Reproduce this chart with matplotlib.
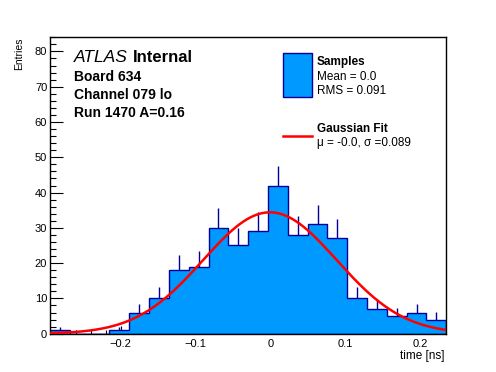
import numpy as np
import matplotlib.pyplot as plt
from matplotlib.patches import Rectangle
from matplotlib.lines import Line2D
from matplotlib.ticker import MultipleLocator, FixedLocator, FixedFormatter

plt.rcParams['font.family'] = ['Liberation Sans', 'DejaVu Sans']

# histogram: 20 bins
x_lo, x_hi = -0.294, 0.234
counts = [1, 0, 0, 1, 6, 10, 18, 19, 30, 25, 29, 42, 28, 31, 27, 10, 7, 5, 6, 4]
errors = [1.0, 0, 0, 1.0, 2.5, 3.2, 4.4, 4.4, 5.5, 5.0, 5.5, 5.5, 5.4, 5.5, 5.4, 3.3, 2.8, 2.3, 2.5, 2.1]

# gaussian fit parameters
fit_amp, fit_mu, fit_sigma = 34.4, -0.001, 0.089

x_ticks = [-0.2, -0.1, 0.0, 0.1, 0.2]
x_tick_labels = ['\u22120.2', '\u22120.1', '0', '0.1', '0.2']
y_max = 84

W, H = 496, 372
fill_col = '#0099ff'
line_col = '#000099'


def px(x, y):
    return x / W, 1 - y / H


fig = plt.figure(figsize=(W / 100, H / 100), dpi=100)
ax = fig.add_axes([50 / W, 1 - 333.7 / H, 396.3 / W, 296.4 / H])

edges = np.linspace(x_lo, x_hi, len(counts) + 1)
centers = 0.5 * (edges[:-1] + edges[1:])
counts = np.array(counts, dtype=float)
errors = np.array(errors)

ax.vlines(centers, counts, counts + errors, color=line_col, lw=1.0, zorder=1)
ax.hist(edges[:-1], bins=edges, weights=counts, histtype='stepfilled',
        facecolor=fill_col, edgecolor=line_col, lw=1.0, zorder=2)

xs = np.linspace(x_lo, x_hi, 400)
ax.plot(xs, fit_amp * np.exp(-0.5 * ((xs - fit_mu) / fit_sigma) ** 2),
        color='#ff0000', lw=1.8, zorder=3)

ax.set_xlim(x_lo, x_hi)
ax.set_ylim(0, y_max)
ax.xaxis.set_major_locator(FixedLocator(x_ticks))
ax.xaxis.set_major_formatter(FixedFormatter(x_tick_labels))
ax.xaxis.set_minor_locator(MultipleLocator(0.02))
ax.yaxis.set_major_locator(MultipleLocator(10))
ax.yaxis.set_minor_locator(MultipleLocator(2))
ax.tick_params(axis='both', which='both', direction='in', labelsize=8, width=0.8)
ax.tick_params(axis='x', which='major', length=6, pad=4)
ax.tick_params(axis='x', which='minor', length=3)
ax.tick_params(axis='y', which='major', length=9, pad=2)
ax.tick_params(axis='y', which='minor', length=4.5)
for s in ax.spines.values():
    s.set_linewidth(1.0)

# axis titles
fig.text(*px(19, 37), 'Entries', rotation=90, ha='center', va='top', fontsize=7.5)
fig.text(*px(445, 355.5), 'time [ns]', ha='right', va='center', fontsize=8.5)

# left labels
fig.text(*px(74, 62.3), 'ATLAS', style='italic', fontsize=12.5, va='baseline')
fig.text(*px(133, 62.3), 'Internal', weight='bold', fontsize=12, va='baseline')
fig.text(*px(74, 80.7), 'Board 634', weight='bold', fontsize=10, va='baseline')
fig.text(*px(74, 99), 'Channel 079 lo', weight='bold', fontsize=10, va='baseline')
fig.text(*px(74, 117.3), 'Run 1470 A=0.16', weight='bold', fontsize=10, va='baseline')

# legend
x0, y0 = px(283, 96.7)
fig.add_artist(Rectangle((x0, y0), 28.7 / W, 43.4 / H, transform=fig.transFigure,
                         facecolor=fill_col, edgecolor=line_col, lw=1.0))
fig.add_artist(Line2D([283 / W, 311.7 / W], [1 - 136 / H] * 2, transform=fig.transFigure,
                      color='#ff0000', lw=1.8))
fig.text(*px(316.7, 65.3), 'Samples', weight='bold', fontsize=8.5, va='baseline')
fig.text(*px(316.7, 80), 'Mean = 0.0', fontsize=8.5, va='baseline')
fig.text(*px(316.7, 94), 'RMS = 0.091', fontsize=8.5, va='baseline')
fig.text(*px(316.7, 132), 'Gaussian Fit', weight='bold', fontsize=8.5, va='baseline')
fig.text(*px(316.7, 146), '\u03bc = -0.0, \u03c3 =0.089', fontsize=8.5, va='baseline')

fig.savefig('out.png', dpi=100)
